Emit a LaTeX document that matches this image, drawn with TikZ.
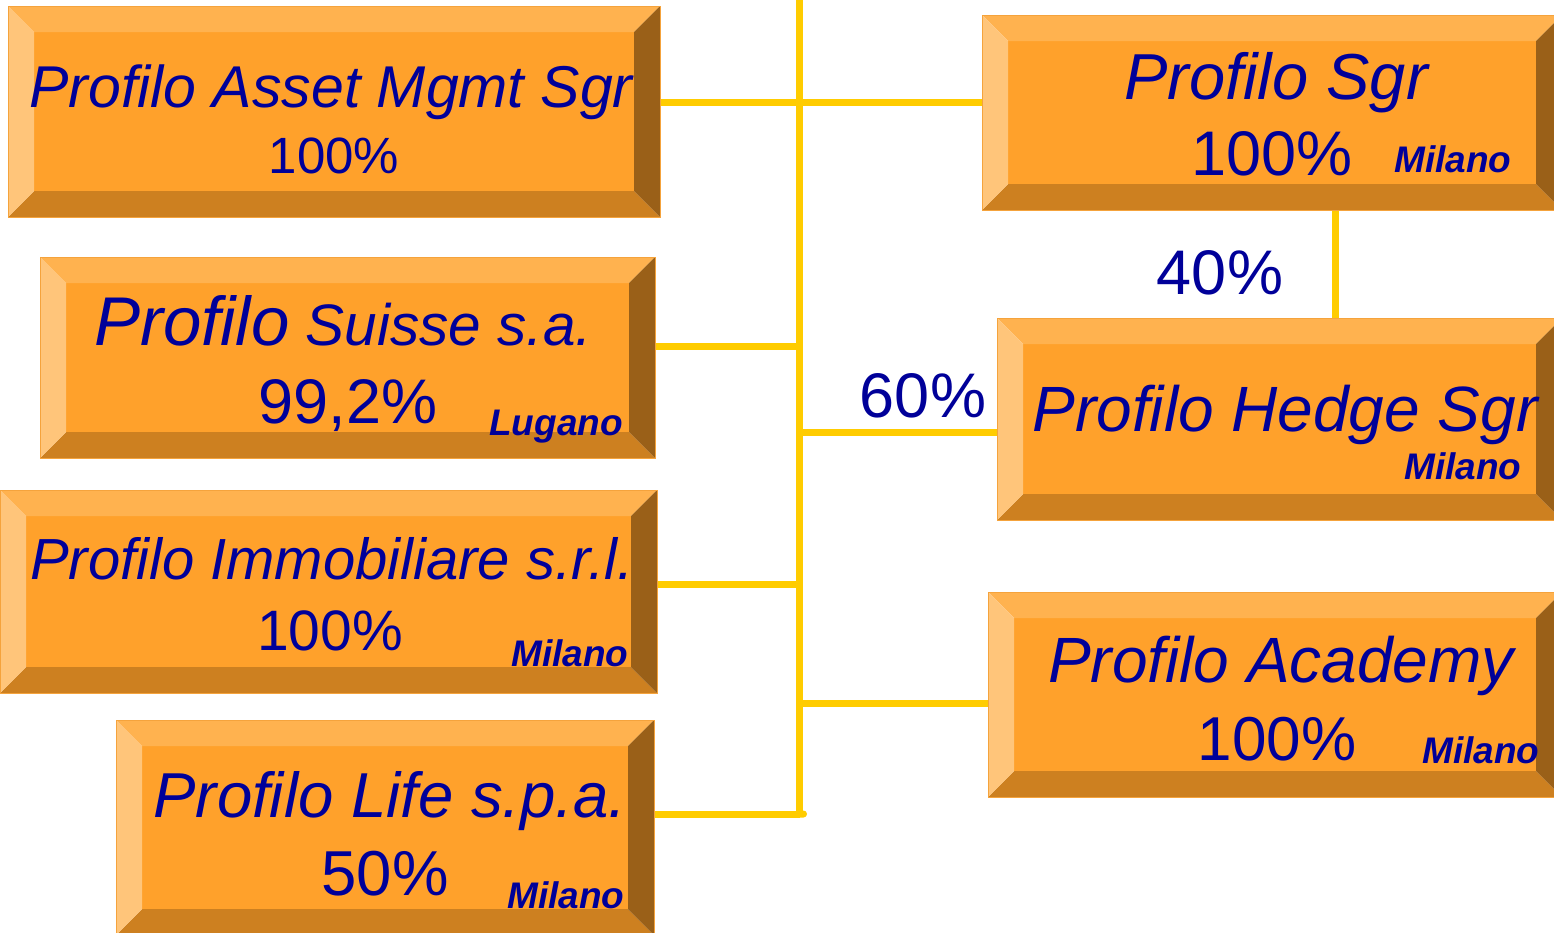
\documentclass[tikz,border=0pt]{standalone}
\usepackage{fontspec}
\setmainfont{Liberation Sans}
\usepackage{tikz}
\usetikzlibrary{calc, positioning, arrows.meta}

\definecolor{bvtop}{HTML}{FFB24F}
\definecolor{bvleft}{HTML}{FFC57A}
\definecolor{bvmid}{HTML}{FFA12B}
\definecolor{bvbottom}{HTML}{CD8020}
\definecolor{bvright}{HTML}{9A6018}
\definecolor{bvedge}{HTML}{F5A33C}
\definecolor{testo}{HTML}{000099}
\definecolor{linea}{HTML}{FFCC00}

\tikzset{
  link/.style={draw=linea, line width=7pt},
  txt/.style={text=testo, inner sep=0pt, anchor=base},
  citta/.style={text=testo, inner sep=0pt, anchor=base west,
    font=\fontsize{37}{38}\selectfont\bfseries\itshape}
}

% scatola smussata: nome, x1, y1, x2, y2
\newcommand{\bevelbox}[5]{%
  \fill[bvmid] (#2+26,#3+26) rectangle (#4-26,#5-26);
  \fill[bvtop] (#2,#3) -- (#4,#3) -- (#4-26,#3+26) -- (#2+26,#3+26) -- cycle;
  \fill[bvbottom] (#2,#5) -- (#4,#5) -- (#4-26,#5-26) -- (#2+26,#5-26) -- cycle;
  \fill[bvleft] (#2,#3) -- (#2+26,#3+26) -- (#2+26,#5-26) -- (#2,#5) -- cycle;
  \fill[bvright] (#4,#3) -- (#4-26,#3+26) -- (#4-26,#5-26) -- (#4,#5) -- cycle;
  \node[draw=bvedge, line width=1pt, inner sep=0pt,
    minimum width={(#4-#2)*1pt}, minimum height={(#5-#3)*1pt}]
    (#1) at ({(#2+#4)/2},{(#3+#5)/2}) {};
}

\begin{document}
\begin{tikzpicture}[x=1pt, y=-1pt]

  \useasboundingbox (0,0) rectangle (1554,932);
  \clip (0,0) rectangle (1554,932);

  % Scatole a sinistra
  \bevelbox{asset}{8}{6}{660}{217}
  \bevelbox{suisse}{40}{257}{655}{458}
  \bevelbox{immob}{0}{490}{657}{693}
  \bevelbox{life}{116}{720}{654}{935}

  % Scatole a destra
  \bevelbox{sgr}{982}{15}{1562}{210}
  \bevelbox{hedge}{997}{318}{1562}{520}
  \bevelbox{academy}{988}{592}{1562}{797}

  % Punti di giunzione sul tronco
  \coordinate (tronco) at (799,-5);
  \coordinate (j-asset) at (799,102);
  \coordinate (j-suisse) at (799,346);
  \coordinate (j-hedge) at (799,432);
  \coordinate (j-immob) at (799,584);
  \coordinate (j-academy) at (799,703);
  \coordinate (j-life) at (799,814);
  \coordinate (fine) at (807,814);
  \coordinate (j-sgr) at (1335,0);

  % Linee di collegamento
  \draw[link] (tronco) -- (j-life);
  \draw[link] (j-asset -| asset.east) -- (j-asset) -- (j-asset -| sgr.west);
  \draw[link] (j-suisse -| suisse.east) -- (j-suisse);
  \draw[link] (j-hedge) -- (j-hedge -| hedge.west);
  \draw[link] (j-immob -| immob.east) -- (j-immob);
  \draw[link] (j-academy) -- (j-academy -| academy.west);
  \draw[link, -{Round Cap[]}] (j-life -| life.east) -- (fine);
  \draw[link] (j-sgr |- sgr.south) -- (j-sgr |- hedge.north);

  % Testi
  \node[txt, font=\fontsize{59}{60}\selectfont\itshape] (t-asset) at (331,107) {Profilo Asset Mgmt Sgr};
  \node[txt, font=\fontsize{51}{52}\selectfont] (p-asset) at (334,173) {100\%};

  \node[txt, font=\fontsize{65}{66}\selectfont\itshape] (t-sgr) at (1276,99) {Profilo Sgr};
  \node[txt, font=\fontsize{63}{64}\selectfont] (p-sgr) at (1272,175) {100\%};
  \node[citta] (c-sgr) at (1394,172) {Milano};

  \node[txt, font=\fontsize{58.5}{60}\selectfont\itshape] (t-suisse) at (343,345) {{\fontsize{69}{70}\selectfont Profilo} Suisse s.a.};
  \node[txt, font=\fontsize{63}{64}\selectfont] (p-suisse) at (348,423) {99,2\%};
  \node[citta] (c-suisse) at (489,435) {Lugano};

  \node[txt, font=\fontsize{58}{60}\selectfont\itshape] (t-immob) at (332,579) {Profilo Immobiliare s.r.l.};
  \node[txt, font=\fontsize{57}{58}\selectfont] (p-immob) at (330,650) {100\%};
  \node[citta] (c-immob) at (511,666) {Milano};

  \node[txt, font=\fontsize{63.5}{64}\selectfont\itshape] (t-life) at (390,817) {Profilo Life s.p.a.};
  \node[txt, font=\fontsize{63.5}{64}\selectfont] (p-life) at (385,895) {50\%};
  \node[citta] (c-life) at (507,908) {Milano};

  \node[txt, font=\fontsize{64}{65}\selectfont\itshape] (t-hedge) at (1285,431) {Profilo Hedge Sgr};
  \node[citta] (c-hedge) at (1404,479) {Milano};

  \node[txt, font=\fontsize{64}{65}\selectfont\itshape] (t-academy) at (1281,682) {Profilo Academy};
  \node[txt, font=\fontsize{62}{63}\selectfont] (p-academy) at (1277,760) {100\%};
  \node[citta] (c-academy) at (1422,763) {Milano};

  % Quote sulle linee
  \node[txt, font=\fontsize{63}{64}\selectfont] (q-hedge) at (1220,294) {40\%};
  \node[txt, font=\fontsize{63}{64}\selectfont] (q-sgr) at (923,417) {60\%};

\end{tikzpicture}
\end{document}
